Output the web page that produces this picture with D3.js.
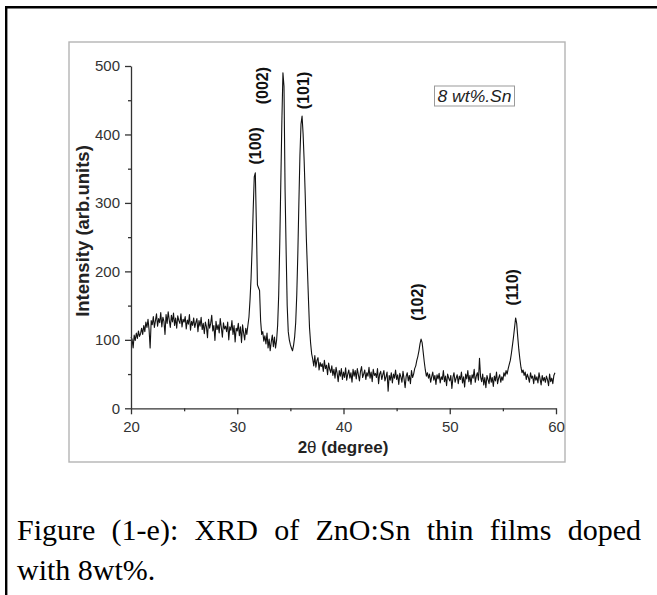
<!DOCTYPE html>
<html>
<head>
<meta charset="utf-8">
<script src="https://cdn.jsdelivr.net/npm/d3@7"></script>
<style>
	html, body { margin: 0; padding: 0; background: #fff; }
	svg { display: block; }
</style>
</head>
<body>
<svg width="657" height="595"></svg>
<script>

// scan from 20 to 59.9 degrees, one reading every 0.1 degree
const SCAN_START = 20;
const SCAN_STEP = 0.1;

const intensity = [
	// 20.0 - 24.9
	104, 101, 88, 107, 99, 110, 102, 113, 105, 109,
	117, 108, 121, 112, 126, 118, 130, 115, 88, 128,
	122, 134, 118, 128, 138, 120, 131, 125, 140, 119,
	133, 127, 108, 137, 124, 141, 129, 118, 136, 126,
	139, 121, 132, 117, 135, 128, 124, 138, 119, 130,
	// 25.0 - 29.9
	126, 134, 116, 129, 123, 137, 114, 127, 121, 132,
	118, 125, 131, 112, 128, 120, 133, 115, 124, 109,
	126, 119, 103, 130, 117, 124, 136, 113, 121, 99,
	127, 115, 122, 110, 131, 118, 104, 125, 116, 120,
	112, 126, 100, 119, 114, 128, 108, 121, 97, 117,
	// 30.0 - 34.9
	113, 124, 106, 119, 96, 122, 110, 100, 117, 108,
	121, 133, 158, 190, 235, 290, 338, 344, 268, 180,
	176, 172, 128, 108, 112, 98, 106, 94, 110, 88,
	101, 84, 97, 107, 90, 104, 88, 99, 121, 165,
	240, 330, 420, 490, 470, 320, 230, 150, 112, 100,
	// 35.0 - 39.9
	93, 88, 84, 92, 104, 125, 165, 225, 300, 370,
	415, 427, 400, 360, 310, 250, 205, 160, 118, 96,
	80, 72, 62, 77, 60, 70, 74, 56, 67, 61,
	65, 54, 70, 58, 63, 49, 66, 57, 52, 62,
	48, 57, 44, 60, 51, 39, 55, 47, 58, 42,
	// 40.0 - 44.9
	53, 45, 59, 41, 50, 56, 44, 52, 38, 57,
	47, 55, 43, 58, 49, 40, 54, 61, 45, 50,
	56, 42, 52, 47, 60, 44, 53, 39, 57, 48,
	51, 45, 58, 36, 50, 54, 42, 49, 55, 40,
	46, 53, 25, 48, 41, 52, 37, 50, 44, 56,
	// 45.0 - 49.9
	42, 49, 35, 51, 46, 38, 54, 43, 30, 47,
	52, 40, 48, 36, 55, 45, 50, 58, 62, 70,
	76, 84, 94, 101, 96, 82, 68, 56, 47, 52,
	44, 50, 38, 46, 53, 41, 48, 35, 49, 43,
	51, 37, 46, 42, 55, 39, 47, 33, 50, 44,
	// 50.0 - 54.9
	40, 48, 29, 45, 52, 38, 44, 49, 36, 47,
	42, 53, 37, 46, 31, 50, 43, 55, 39, 48,
	35, 49, 44, 57, 38, 47, 52, 41, 73, 46,
	39, 50, 34, 45, 30, 48, 42, 36, 51, 38,
	45, 32, 47, 40, 53, 36, 44, 49, 38, 46,
	// 55.0 - 59.9
	41, 52, 47, 55, 50, 58, 64, 70, 80, 92,
	104, 118, 132, 124, 104, 86, 72, 60, 52, 56,
	48, 53, 42, 50, 45, 38, 52, 44, 47, 36,
	49, 41, 46, 37, 52, 43, 34, 48, 40, 45,
	38, 47, 42, 33, 50, 39, 44, 36, 48, 52
];

// reflection labels, placed at (2theta, intensity) where the text starts
const peakNames = ['(100)', '(002)', '(101)', '(102)', '(110)'];
const peakAngles = [31.67, 32.4, 36.24, 47.0, 55.92];
const peakLabelBase = [356, 444, 437, 128, 150];

const xMajorTicks = [20, 30, 40, 50, 60];
const xMinorTicks = [25, 35, 45, 55];
const yMajorTicks = [0, 100, 200, 300, 400, 500];
const yMinorTicks = [50, 150, 250, 350, 450];

const sampleLabel = '8 wt%.Sn';
const captionLines = [
	'Figure (1-e): XRD of ZnO:Sn thin films doped',
	'with 8wt%.'
];

const PANEL = { left: 69, top: 42, right: 565, bottom: 462 };
const PLOT = { left: 131, right: 556, top: 66, bottom: 408.3 };
const SANS = '"Liberation Sans", Arial, sans-serif';

function whenDocumentLoaded(action) {
	if (document.readyState === "loading") {
		document.addEventListener("DOMContentLoaded", action);
	} else {
		action();
	}
}

whenDocumentLoaded(() => {

	const svg = d3.select('svg');

	// page frame (only top and left edges show)
	svg.append('path')
	.attr('d', 'M6.2,595 L6.2,7.2 L657,7.2')
	.attr('fill', 'none')
	.attr('stroke', '#000')
	.attr('stroke-width', 2.4);

	// figure panel
	svg.append('rect')
	.attr('x', PANEL.left)
	.attr('y', PANEL.top)
	.attr('width', PANEL.right - PANEL.left)
	.attr('height', PANEL.bottom - PANEL.top)
	.attr('fill', '#fff')
	.attr('stroke', '#b4b4b4')
	.attr('stroke-width', 1.4);

	const xScale = d3.scaleLinear().domain([20, 60]).range([PLOT.left, PLOT.right]);
	const yScale = d3.scaleLinear().domain([0, 500]).range([PLOT.bottom, PLOT.top]);

	const scan = intensity.map((v, i) => ({ angle: SCAN_START + i * SCAN_STEP, value: v }));

	const line = d3.line()
	.x(d => xScale(d.angle))
	.y(d => yScale(d.value));

	svg.append('path')
	.datum(scan)
	.attr('d', line)
	.attr('fill', 'none')
	.attr('stroke', '#111')
	.attr('stroke-width', 1.1)
	.attr('stroke-linejoin', 'round');

	// axes
	const axisColor = '#333';

	svg.append('g')
	.attr('transform', 'translate(0,' + PLOT.bottom + ')')
	.call(d3.axisBottom(xScale).tickValues(xMajorTicks).tickSize(6).tickPadding(7).tickSizeOuter(0));

	svg.append('g')
	.attr('transform', 'translate(0,' + PLOT.bottom + ')')
	.call(d3.axisBottom(xScale).tickValues(xMinorTicks).tickSize(3).tickFormat('').tickSizeOuter(0))
	.select('.domain').remove();

	svg.append('g')
	.attr('transform', 'translate(' + PLOT.left + ',0)')
	.call(d3.axisLeft(yScale).tickValues(yMajorTicks).tickSize(6).tickPadding(5).tickSizeOuter(0));

	svg.append('g')
	.attr('transform', 'translate(' + PLOT.left + ',0)')
	.call(d3.axisLeft(yScale).tickValues(yMinorTicks).tickSize(3).tickFormat('').tickSizeOuter(0))
	.select('.domain').remove();

	svg.selectAll('.domain, .tick line')
	.attr('stroke', axisColor)
	.attr('stroke-width', 1.3);

	svg.selectAll('.tick text')
	.attr('fill', axisColor)
	.style('font-family', SANS)
	.style('font-size', '15px');

	// axis titles
	const xTitle = svg.append('text')
	.attr('x', 343)
	.attr('y', 453)
	.attr('text-anchor', 'middle')
	.attr('fill', '#222')
	.style('font-family', SANS)
	.style('font-size', '17px')
	.style('font-weight', 'bold');
	xTitle.append('tspan').text('2');
	xTitle.append('tspan').style('font-weight', 'normal').text('θ');
	xTitle.append('tspan').text(' (degree)');

	svg.append('text')
	.attr('transform', 'translate(83,231) rotate(-90)')
	.attr('dy', '0.35em')
	.attr('text-anchor', 'middle')
	.attr('fill', '#222')
	.style('font-family', SANS)
	.style('font-size', '18.5px')
	.style('font-weight', 'bold')
	.text('Intensity (arb.units)');

	// peak labels
	svg.selectAll('.peak')
	.data(peakNames)
	.enter()
	.append('text')
	.attr('class', 'peak')
	.attr('transform', (d, i) => 'translate(' + xScale(peakAngles[i]) + ',' + yScale(peakLabelBase[i]) + ') rotate(-90)')
	.attr('dy', '0.35em')
	.attr('fill', '#111')
	.style('font-family', SANS)
	.style('font-size', '16px')
	.style('font-weight', 'bold')
	.text(d => d);

	// sample tag
	svg.append('rect')
	.attr('x', 434.5)
	.attr('y', 86)
	.attr('width', 80)
	.attr('height', 20)
	.attr('fill', '#fff')
	.attr('stroke', '#9a9a9a')
	.attr('stroke-width', 1);

	svg.append('text')
	.attr('x', 437.5)
	.attr('y', 101.5)
	.attr('fill', '#222')
	.attr('textLength', 74)
	.attr('lengthAdjust', 'spacingAndGlyphs')
	.style('font-family', SANS)
	.style('font-size', '16.5px')
	.style('font-style', 'italic')
	.text(sampleLabel);

	// caption, first line justified to the right edge
	const captionLeft = 17;
	const captionRight = 641;
	const baselines = [540, 580];

	captionLines.forEach((txt, i) => {
		const t = svg.append('text')
		.attr('x', captionLeft)
		.attr('y', baselines[i])
		.attr('fill', '#000')
		.style('font-family', '"Liberation Serif", "Times New Roman", serif')
		.style('font-size', '30px')
		.text(txt);
		if (i === 0) {
			const gaps = txt.split(' ').length - 1;
			const extra = (captionRight - captionLeft) - t.node().getComputedTextLength();
			t.style('word-spacing', (extra / gaps) + 'px');
		}
	});

});
</script>
</body>
</html>
